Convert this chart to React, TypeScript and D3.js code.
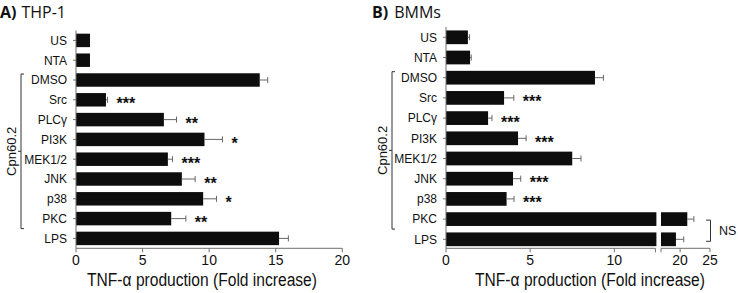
import React from "react";
import * as d3 from "d3";

const categories = ["US", "NTA", "DMSO", "Src", "PLCγ", "PI3K", "MEK1/2", "JNK", "p38", "PKC", "LPS"];
const valuesA = [1.05, 1.05, 13.8, 2.25, 6.6, 9.65, 6.9, 7.95, 9.55, 7.15, 15.25];
const errorsA = [0, 0, 0.6, 0.12, 0.95, 1.35, 0.35, 1.0, 1.0, 1.1, 0.7];
const starsA = ["", "", "", "***", "**", "*", "***", "**", "*", "**", ""];
const ticksA = [0, 5, 10, 15, 20];

const valuesB = [1.3, 1.43, 8.85, 3.45, 2.5, 4.28, 7.5, 3.98, 3.6, 21.2, 19.3];
const errorsB = [0.1, 0.07, 0.5, 0.58, 0.23, 0.48, 0.52, 0.46, 0.44, 1.1, 1.3];
const starsB = ["", "", "", "***", "***", "***", "", "***", "***", "", ""];
const ticksB1 = [0, 5, 10];
const ticksB2 = [20, 25];

const groupLabel = "Cpn60.2";
const xTitle = "TNF-α production (Fold increase)";

const FONT = "'Liberation Sans', Arial, sans-serif";
const TITLE_FONT = "'Open Sans', 'Noto Sans', sans-serif";
const AXIS = "#6f6f6f";
const ERR = "#666";
const BAR = "#0d0d0d";

function YLabels({ y, x0 }: { y: d3.ScaleBand<string>; x0: number }) {
  return (
    <g>
      {categories.map((c) => {
        const cy = (y(c) as number) + y.bandwidth() / 2;
        return (
          <g key={c}>
            <line x1={x0 - 3} x2={x0} y1={cy} y2={cy} stroke={AXIS} strokeWidth={1} />
            <text x={x0 - 9} y={cy + 4.3} textAnchor="end" fontSize={12} fontFamily={FONT} fill="#111">
              {c}
            </text>
          </g>
        );
      })}
    </g>
  );
}

function Bracket({ y, x, lx }: { y: d3.ScaleBand<string>; x: number; lx: number }) {
  const top = (y("DMSO") as number) + y.bandwidth() / 2 - 6;
  const bot = (y("PKC") as number) + y.bandwidth() / 2 + 10;
  const mid = (top + bot) / 2;
  return (
    <g>
      <path
        d={`M${x + 3},${top} L${x},${top} L${x},${bot} L${x + 3},${bot} M${x},${mid} L${x - 3},${mid}`}
        fill="none"
        stroke="#333"
        strokeWidth={1}
      />
      <text
        transform={`translate(${lx},${mid}) rotate(-90)`}
        textAnchor="middle"
        fontSize={13}
        fontFamily={FONT}
        fill="#111"
      >
        {groupLabel}
      </text>
    </g>
  );
}

function AxisTitle({ cx }: { cx: number }) {
  return (
    <text
      transform={`translate(${cx},286) scale(1,1.15)`}
      textAnchor="middle"
      fontSize={15.6}
      fontFamily={FONT}
      fill="#111"
    >
      {xTitle}
    </text>
  );
}

function PanelA() {
  const x = d3.scaleLinear().domain([0, 20]).range([76, 342.3]);
  const y = d3.scaleBand<string>().domain(categories).range([30.5, 248.3]).paddingInner(0.32).paddingOuter(0.16);
  const base = 248.3;
  return (
    <g>
      <text x={0} y={18} fontFamily={TITLE_FONT} fontSize={16} fill="#111">
        <tspan fontWeight="bold">A)</tspan>
        <tspan dx={5}>THP-1</tspan>
      </text>
      {categories.map((c, i) => {
        const by = y(c) as number;
        const cy = by + y.bandwidth() / 2;
        const xe = x(valuesA[i] + errorsA[i]);
        return (
          <g key={c}>
            <rect x={x(0)} y={by} width={x(valuesA[i]) - x(0)} height={y.bandwidth()} fill={BAR} />
            {errorsA[i] > 0 && (
              <g stroke={ERR} strokeWidth={1}>
                <line x1={x(valuesA[i])} x2={xe} y1={cy} y2={cy} />
                <line x1={xe} x2={xe} y1={cy - 3} y2={cy + 3} />
              </g>
            )}
            {starsA[i] && (
              <text x={xe + 9} y={cy + 9.5} fontSize={16} fontWeight="bold" fontFamily={FONT} fill="#111">
                {starsA[i]}
              </text>
            )}
          </g>
        );
      })}
      <line x1={x(0)} x2={x(0)} y1={30.5} y2={base} stroke={AXIS} strokeWidth={1} />
      <line x1={x(0)} x2={x(20)} y1={base} y2={base} stroke={AXIS} strokeWidth={1} />
      {ticksA.map((t) => (
        <g key={t}>
          <line x1={x(t)} x2={x(t)} y1={base} y2={base + 4} stroke={AXIS} strokeWidth={1} />
          <text x={x(t)} y={264.5} textAnchor="middle" fontSize={14} fontFamily={FONT} fill="#111">
            {t}
          </text>
        </g>
      ))}
      <YLabels y={y} x0={x(0)} />
      <Bracket y={y} x={21} lx={15.5} />
      <AxisTitle cx={202} />
    </g>
  );
}

function PanelB() {
  const breakLo = 12.5;
  const breakHi = 16.8;
  const x1 = d3.scaleLinear().domain([0, breakLo]).range([446, 656.4]);
  const x2 = d3.scaleLinear().domain([breakHi, 25]).range([661, 710]);
  const y = d3.scaleBand<string>().domain(categories).range([27.2, 249.4]).paddingInner(0.32).paddingOuter(0.16);
  const base = 248.3;
  const xv = (v: number) => (v <= breakLo ? x1(v) : x2(v));
  return (
    <g>
      <text x={372} y={18} fontFamily={TITLE_FONT} fontSize={16} fill="#111">
        <tspan fontWeight="bold">B)</tspan>
        <tspan dx={6}>BMMs</tspan>
      </text>
      {categories.map((c, i) => {
        const by = y(c) as number;
        const cy = by + y.bandwidth() / 2;
        const v = valuesB[i];
        const xe = xv(v + errorsB[i]);
        return (
          <g key={c}>
            {v <= breakLo ? (
              <rect x={x1(0)} y={by} width={x1(v) - x1(0)} height={y.bandwidth()} fill={BAR} />
            ) : (
              <g>
                <rect x={x1(0)} y={by} width={x1(breakLo) - x1(0)} height={y.bandwidth()} fill={BAR} />
                <rect x={x2(breakHi)} y={by} width={x2(v) - x2(breakHi)} height={y.bandwidth()} fill={BAR} />
              </g>
            )}
            <g stroke={ERR} strokeWidth={1}>
              <line x1={xv(v)} x2={xe} y1={cy} y2={cy} />
              <line x1={xe} x2={xe} y1={cy - 3} y2={cy + 3} />
            </g>
            {starsB[i] && (
              <text x={xe + 9} y={cy + 9.5} fontSize={16} fontWeight="bold" fontFamily={FONT} fill="#111">
                {starsB[i]}
              </text>
            )}
          </g>
        );
      })}
      <line x1={x1(0)} x2={x1(0)} y1={27} y2={base} stroke={AXIS} strokeWidth={1} />
      <line x1={x1(0)} x2={x1(breakLo) - 1} y1={base} y2={base} stroke={AXIS} strokeWidth={1} />
      <line x1={x1(breakLo) - 1} x2={x1(breakLo) - 1} y1={base} y2={base + 4} stroke={AXIS} strokeWidth={1} />
      <line x1={x2(breakHi)} x2={x2(25)} y1={base} y2={base} stroke={AXIS} strokeWidth={1} />
      <line x1={x2(breakHi)} x2={x2(breakHi)} y1={base} y2={base + 4} stroke={AXIS} strokeWidth={1} />
      {ticksB1.map((t) => (
        <g key={t}>
          <line x1={x1(t)} x2={x1(t)} y1={base} y2={base + 4} stroke={AXIS} strokeWidth={1} />
          <text x={x1(t)} y={264.5} textAnchor="middle" fontSize={14} fontFamily={FONT} fill="#111">
            {t}
          </text>
        </g>
      ))}
      {ticksB2.map((t) => (
        <g key={t}>
          <line x1={x2(t)} x2={x2(t)} y1={base} y2={base + 4} stroke={AXIS} strokeWidth={1} />
          <text x={x2(t)} y={264.5} textAnchor="middle" fontSize={14} fontFamily={FONT} fill="#111">
            {t}
          </text>
        </g>
      ))}
      <YLabels y={y} x0={x1(0)} />
      <Bracket y={y} x={392} lx={386.5} />
      {(() => {
        const yt = (y("PKC") as number) + y.bandwidth() / 2 + 1;
        const yb = (y("LPS") as number) + y.bandwidth() / 2 + 2;
        return (
          <g>
            <path d={`M706,${yt} L710.5,${yt} L710.5,${yb} L706,${yb}`} fill="none" stroke="#333" strokeWidth={1} />
            <text x={719} y={(yt + yb) / 2 + 4.5} fontSize={12.5} fontFamily={FONT} fill="#111">
              NS
            </text>
          </g>
        );
      })()}
      <AxisTitle cx={590} />
    </g>
  );
}

export default function App() {
  return (
    <svg width={738} height={293} style={{ position: "absolute", left: 0, top: 0, background: "#fff" }}>
      <rect width={738} height={293} fill="#fff" />
      <PanelA />
      <PanelB />
    </svg>
  );
}
